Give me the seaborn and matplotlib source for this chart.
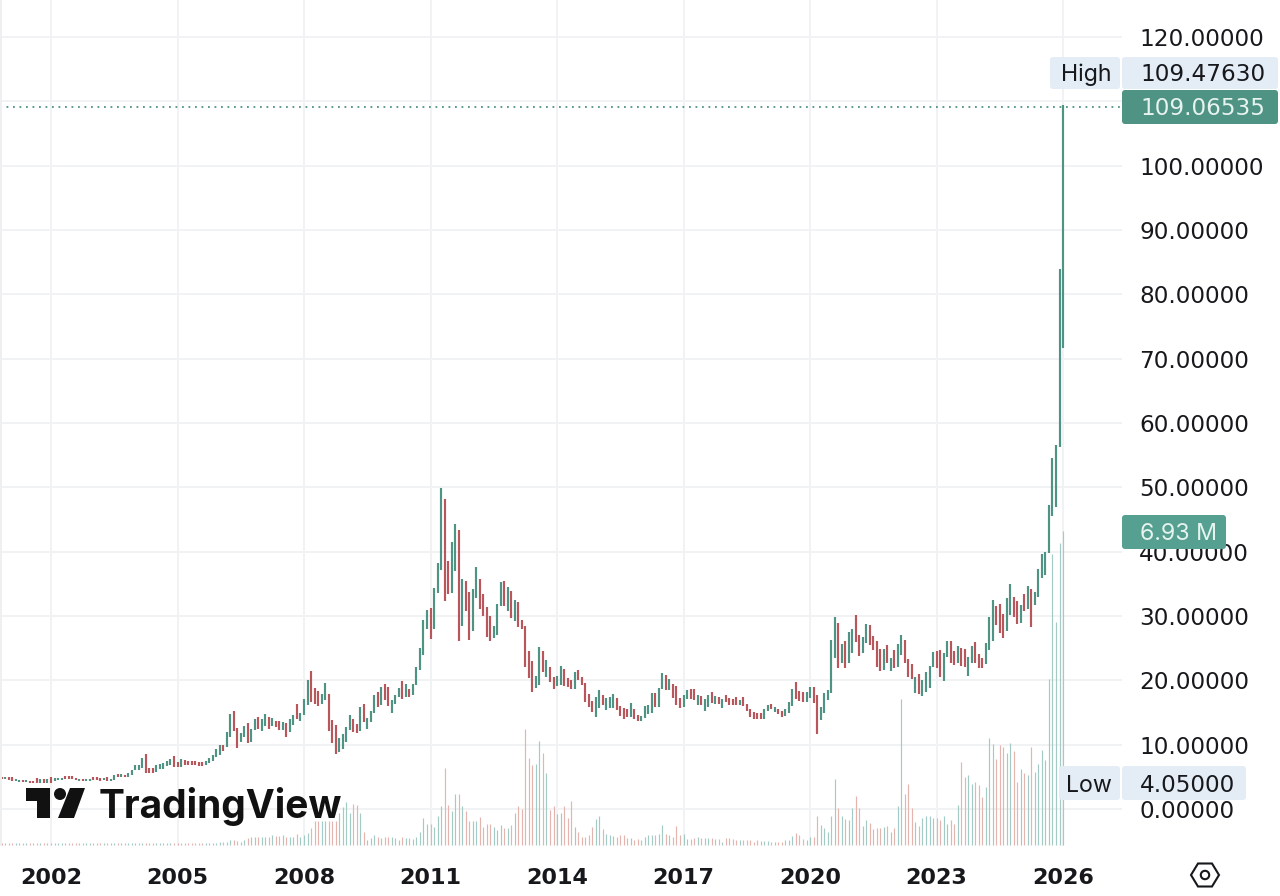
import matplotlib
matplotlib.use("Agg")
import matplotlib.patches as mpatches
import numpy as np
import pandas as pd
import seaborn as sns
from matplotlib import pyplot as plt

# monthly bars, first one is Nov 2000, last one is Jan 2026
highs = [
    4.93, 4.98,
    4.93, 5.03, 4.67, 4.57, 4.51, 4.46, 4.41, 4.41, 4.77, 4.62, 4.62, 4.62,
    4.93, 4.77, 4.88, 4.88, 5.14, 5.19, 5.14, 4.88, 4.72, 4.62, 4.72, 4.72,
    4.93, 4.93, 4.82, 4.88, 4.93, 4.67, 5.29, 5.39, 5.45, 5.29, 5.55, 6.12,
    6.84, 6.84, 7.88, 8.55, 6.33, 6.33, 6.84, 6.95, 7.10, 7.47, 7.73, 8.19,
    7.36, 7.78, 7.62, 7.52, 7.52, 7.41, 7.36, 7.26, 7.52, 7.93, 8.40, 9.28,
    9.90, 9.95, 11.92, 14.77, 15.24, 12.54, 11.87, 12.91, 13.32, 12.39, 13.94, 14.25,
    13.94, 14.72, 14.25, 14.20, 13.68, 13.68, 13.47, 13.32, 13.95, 14.62, 16.33, 14.98,
    17.05, 20.06, 21.46, 18.76, 18.40, 17.88, 19.64, 17.88, 13.84, 13.07, 11.00, 11.67,
    12.81, 14.62, 14.00, 13.22, 15.81, 16.33, 14.10, 15.24, 17.73, 18.25, 18.92, 19.44,
    18.92, 16.95, 17.73, 18.76, 19.90, 19.44, 18.61, 19.44, 22.13, 24.98, 29.38, 30.94,
    31.20, 34.30, 38.19, 49.84, 48.20, 38.55, 41.45, 44.25, 43.37, 35.76, 35.44, 33.68,
    34.15, 37.57, 35.76, 33.37, 31.46, 30.01, 28.45, 31.87, 35.24, 35.44, 34.46, 33.89,
    32.49, 32.23, 29.38, 28.45, 24.57, 23.01, 20.68, 25.14, 24.57, 23.17, 22.03, 20.58,
    20.68, 22.23, 21.77, 20.32, 20.06, 21.35, 21.61, 20.47, 19.65, 17.88, 16.79, 17.36,
    18.50, 17.72, 17.31, 17.36, 17.88, 17.21, 16.02, 15.65, 15.50, 16.43, 15.55, 14.62,
    14.51, 16.02, 16.17, 17.98, 18.09, 18.76, 21.09, 20.83, 20.16, 19.43, 19.12, 17.21,
    17.72, 18.50, 18.60, 18.60, 17.72, 17.57, 17.10, 17.72, 18.14, 17.57, 17.36, 17.05,
    17.72, 17.31, 17.05, 17.47, 16.95, 17.36, 16.27, 15.60, 15.03, 14.88, 14.88, 15.55,
    16.12, 16.33, 15.80, 15.50, 15.19, 15.50, 16.69, 18.60, 19.75, 18.40, 18.24, 18.24,
    18.92, 18.90, 17.70, 15.80, 18.00, 18.50, 26.30, 29.90, 28.86, 25.65, 26.12, 27.47,
    27.98, 30.16, 27.05, 26.79, 28.76, 28.60, 26.90, 26.12, 24.88, 24.88, 25.50, 23.53,
    24.72, 25.65, 27.05, 26.27, 23.32, 22.54, 20.58, 21.00, 20.06, 21.30, 22.23, 24.41,
    24.62, 24.72, 24.20, 26.07, 26.12, 24.62, 25.34, 25.03, 24.88, 23.68, 25.34, 25.91,
    24.10, 23.53, 25.76, 29.80, 32.49, 31.56, 31.87, 30.26, 32.75, 34.98, 33.00, 32.33,
    31.71, 33.37, 34.67, 34.20, 33.68, 37.30, 39.60, 39.90, 47.30, 54.60, 56.60, 84.00,
    109.4763,
]
lows = [
    4.62, 4.67,
    4.51, 4.36, 4.36, 4.25, 4.20, 4.15, 4.10, 4.05, 4.10, 4.05, 4.05, 4.10,
    4.10, 4.31, 4.51, 4.57, 4.62, 4.62, 4.62, 4.46, 4.36, 4.31, 4.36, 4.41,
    4.51, 4.51, 4.41, 4.46, 4.41, 4.41, 4.46, 4.93, 4.98, 4.93, 4.93, 5.29,
    6.07, 6.07, 6.33, 5.55, 5.55, 5.55, 5.70, 6.17, 6.22, 6.69, 6.84, 6.59,
    6.48, 6.59, 6.84, 6.84, 6.84, 6.79, 6.74, 6.74, 6.79, 7.21, 7.52, 8.04,
    8.40, 9.07, 9.69, 11.25, 12.18, 9.54, 10.37, 11.25, 10.32, 10.47, 12.28, 12.39,
    12.18, 12.91, 12.39, 12.91, 12.70, 12.28, 12.28, 11.25, 12.03, 13.06, 13.95, 13.74,
    14.62, 16.17, 16.69, 16.28, 16.07, 16.33, 16.95, 12.18, 10.32, 8.56, 8.92, 9.28,
    10.48, 12.29, 12.03, 11.87, 12.13, 13.58, 12.44, 13.48, 14.88, 15.92, 16.17, 16.95,
    16.02, 14.88, 16.33, 17.37, 17.11, 17.37, 17.47, 17.73, 19.28, 21.61, 23.94, 27.98,
    26.43, 27.98, 33.63, 37.15, 32.39, 33.42, 33.63, 37.05, 26.17, 28.50, 30.83, 26.28,
    27.73, 32.75, 31.09, 30.06, 26.79, 26.12, 26.53, 27.05, 31.61, 31.56, 30.83, 29.64,
    29.28, 28.35, 27.98, 22.13, 20.42, 18.25, 18.87, 19.28, 21.25, 20.58, 19.70, 18.66,
    19.13, 19.28, 19.13, 19.02, 18.66, 18.66, 20.06, 19.28, 16.69, 15.92, 15.13, 14.36,
    15.65, 16.17, 15.39, 15.76, 15.65, 15.39, 14.46, 14.00, 14.36, 14.36, 14.00, 13.74,
    13.68, 14.10, 14.77, 14.88, 15.91, 15.91, 18.66, 18.50, 18.50, 17.21, 16.17, 15.65,
    15.80, 17.05, 17.05, 16.95, 16.17, 16.17, 15.29, 15.91, 16.43, 16.33, 16.33, 15.76,
    16.69, 16.17, 16.17, 16.17, 16.17, 16.07, 15.29, 14.36, 14.05, 14.05, 14.05, 14.00,
    15.29, 15.50, 15.13, 14.72, 14.36, 14.46, 14.98, 16.02, 17.05, 16.79, 16.59, 16.69,
    17.21, 16.50, 11.70, 13.80, 14.90, 16.90, 18.00, 23.40, 21.87, 22.65, 21.97, 22.65,
    24.20, 26.00, 23.84, 24.20, 25.76, 25.50, 24.70, 22.13, 21.46, 21.61, 22.75, 21.51,
    21.97, 22.13, 23.94, 22.75, 20.58, 20.21, 18.09, 17.83, 17.62, 18.25, 18.87, 22.13,
    21.87, 20.58, 19.95, 23.68, 22.65, 22.39, 22.65, 22.29, 22.13, 20.73, 22.65, 22.65,
    21.87, 21.97, 22.54, 24.72, 26.17, 28.60, 27.41, 26.64, 27.72, 30.16, 29.80, 28.76,
    28.97, 30.83, 31.09, 28.35, 31.71, 33.00, 35.96, 36.40, 39.80, 45.50, 46.90, 56.30,
    71.60,
]
# G = month closed up, R = month closed down
directions = (
    "RG" "RRGGRGRRRGRG"
    "RGGGRRRRGRGG" "RRRGRGGRGRGG" "GGGRRRGGGGGR" "RGRRRRRRGGGG"
    "GRGGRRGGRGGR" "GGRGRRGRGGRG" "GGRRRGGRRRGG" "GGRRGRGGGRGR"
    "RGGGRGRGGGGG" "RGGGRRGGRGRR" "GGRRRRGGGRGR" "GRRRRRGGRGRR"
    "GGRRRGRRRRRG" "GRGGGRRRRGRR" "GGGGRGGRGRRR" "GGRRGRGGRGRG"
    "RRRRGRRRRRRG" "GRGRRGGGRRRG" "GRRGGGGGRGRG" "GRRGGRRRRGRG"
    "RGGRRRGRGGGG" "RRGGRRGRRGGR" "RRGGGRRRGGRR" "GRGRGGGGGGGG"
    "G"
)
# volume, millions
volumes = [
    0.04, 0.04,
    0.04, 0.04, 0.04, 0.04, 0.04, 0.04, 0.04, 0.04, 0.04, 0.04, 0.04, 0.04,
    0.04, 0.04, 0.04, 0.04, 0.04, 0.04, 0.04, 0.04, 0.04, 0.04, 0.04, 0.04,
    0.04, 0.04, 0.04, 0.04, 0.04, 0.04, 0.04, 0.04, 0.04, 0.04, 0.04, 0.04,
    0.04, 0.04, 0.04, 0.05, 0.04, 0.04, 0.04, 0.04, 0.04, 0.04, 0.04, 0.04,
    0.04, 0.04, 0.04, 0.04, 0.04, 0.04, 0.04, 0.04, 0.04, 0.05, 0.05, 0.05,
    0.06, 0.06, 0.07, 0.11, 0.11, 0.09, 0.06, 0.11, 0.15, 0.17, 0.17, 0.18,
    0.18, 0.17, 0.18, 0.22, 0.20, 0.20, 0.22, 0.18, 0.18, 0.18, 0.24, 0.18,
    0.22, 0.27, 0.37, 0.53, 0.52, 0.52, 0.52, 0.52, 0.52, 0.52, 0.70, 0.83,
    0.96, 0.70, 0.91, 0.88, 0.71, 0.29, 0.11, 0.15, 0.21, 0.18, 0.16, 0.18,
    0.18, 0.18, 0.15, 0.11, 0.18, 0.16, 0.16, 0.13, 0.17, 0.28, 0.59, 0.46,
    0.46, 0.39, 0.64, 0.87, 1.71, 0.88, 0.76, 1.13, 1.13, 0.85, 0.74, 0.52,
    0.52, 0.52, 0.61, 0.39, 0.46, 0.46, 0.40, 0.33, 0.44, 0.38, 0.37, 0.44,
    0.71, 0.86, 0.79, 2.56, 1.91, 1.77, 1.79, 2.30, 2.02, 1.60, 0.77, 0.85,
    0.68, 0.71, 0.86, 0.59, 0.97, 0.39, 0.29, 0.17, 0.17, 0.21, 0.39, 0.57,
    0.64, 0.35, 0.24, 0.22, 0.20, 0.18, 0.21, 0.22, 0.15, 0.15, 0.11, 0.13,
    0.11, 0.18, 0.21, 0.22, 0.21, 0.24, 0.44, 0.24, 0.22, 0.18, 0.43, 0.22,
    0.24, 0.13, 0.13, 0.15, 0.18, 0.15, 0.15, 0.15, 0.15, 0.13, 0.13, 0.07,
    0.15, 0.15, 0.13, 0.11, 0.11, 0.11, 0.10, 0.11, 0.07, 0.11, 0.09, 0.09,
    0.09, 0.07, 0.07, 0.07, 0.07, 0.11, 0.12, 0.20, 0.26, 0.21, 0.13, 0.11,
    0.18, 0.18, 0.64, 0.44, 0.37, 0.29, 0.64, 1.45, 0.81, 0.63, 0.57, 0.55,
    0.82, 1.08, 0.81, 0.43, 0.55, 0.49, 0.35, 0.38, 0.38, 0.39, 0.42, 0.29,
    0.37, 0.87, 3.22, 1.12, 1.35, 0.81, 0.50, 0.42, 0.59, 0.64, 0.64, 0.60,
    0.60, 0.55, 0.64, 0.46, 0.55, 0.46, 0.88, 1.83, 1.51, 1.55, 1.34, 1.38,
    1.32, 1.05, 1.27, 2.37, 2.22, 1.90, 2.21, 2.17, 2.02, 2.26, 2.08, 1.38,
    1.68, 1.60, 1.55, 2.16, 1.62, 1.79, 2.10, 1.88, 3.66, 6.42, 4.92, 6.67,
    6.93,
]
last_close = 109.06535
year_labels = ["2002", "2005", "2008", "2011", "2014", "2017", "2020", "2023", "2026"]
year_months = [0, 36, 72, 108, 144, 180, 216, 252, 288]
price_ticks = [0, 10, 20, 30, 40, 50, 60, 70, 80, 90, 100, 110, 120]

GREEN = "#4f9384"
RED = "#b9565c"
GREEN_VOL = "#a3cac5"
RED_VOL = "#e3b5ae"
GRID = "#f1f2f4"
INK = "#17181c"
TAG = "#e4edf6"
NUM_FONT = "DejaVu Sans"

sns.set_theme(style="white", rc={"axes.edgecolor": "none", "figure.facecolor": "white"})
plt.rcParams["font.family"] = ["Inter", "DejaVu Sans"]

months = np.arange(len(highs)) - 14
df = pd.DataFrame({"month": months, "high": highs, "low": lows,
                   "volume": volumes, "dir": list(directions)})
df["base"] = 0.0
bars = df.melt(id_vars=["month", "dir"], value_vars=["high", "low"], value_name="price")
vols = df.melt(id_vars=["month", "dir"], value_vars=["volume", "base"], value_name="vol")

fig = plt.figure(figsize=(12.8, 8.96), dpi=100)
ax = fig.add_axes([0, 50 / 896, 1122 / 1280, 846 / 896])
ax.patch.set_alpha(0)

sns.lineplot(data=bars, x="month", y="price", hue="dir", units="month", estimator=None,
             palette={"G": GREEN, "R": RED}, lw=1.55, solid_capstyle="butt",
             legend=False, ax=ax)
ax.axhline(last_close, color=GREEN, lw=1.3, ls=(0, (1, 2.6)), zorder=1)

ax.set_xlim(-51 / 3.514, (1122 - 51) / 3.514)
ax.set_ylim((809 - 846) / 6.433, 809 / 6.433)
ax.set_xlabel("")
ax.set_ylabel("")
ax.set_axisbelow(True)
ax.grid(True, color=GRID, lw=1.4)

ax_vol = ax.twinx()
sns.lineplot(data=vols, x="month", y="vol", hue="dir", units="month", estimator=None,
             palette={"G": GREEN_VOL, "R": RED_VOL}, lw=0.85, solid_capstyle="butt",
             legend=False, ax=ax_vol)
ax_vol.set_ylim(-1 * 0.02207, 845 * 0.02207)
ax_vol.set_ylabel("")
ax_vol.set_yticks([])
ax_vol.grid(False)

# twinx moves the price ticks back to the left, so set them up after it
ax.set_xticks(year_months, year_labels, fontsize=16, fontweight="bold", color=INK,
              family=NUM_FONT)
ax.set_yticks(price_ticks)
ax.set_yticklabels(["" if p == 110 else f"{p:.5f}" for p in price_ticks], fontsize=16.7,
                   color=INK, family=NUM_FONT, va="center_baseline")
ax.yaxis.tick_right()
ax.tick_params(axis="x", length=0, pad=15.5)
ax.tick_params(axis="y", length=0, pad=12.5)

# overlay in pixels for the price tags, logo and settings icon
ov = fig.add_axes([0, 0, 1, 1], zorder=10)
ov.set_xlim(0, 1280)
ov.set_ylim(896, 0)
ov.axis("off")


def tag(x0, y0, x1, y1, color):
    ov.add_patch(mpatches.FancyBboxPatch((x0, y0), x1 - x0, y1 - y0, facecolor=color,
                                         edgecolor="none",
                                         boxstyle="round,pad=0,rounding_size=3"))


ov.add_patch(mpatches.Rectangle((0, 0), 2, 846, facecolor="#eeeff1", edgecolor="none"))

tag(1050, 57, 1120, 89, TAG)
tag(1122, 57, 1278, 89, TAG)
tag(1122, 90, 1278, 124, GREEN)
tag(1122, 515, 1226, 549, "#55a090")
tag(1059, 766, 1120, 800, TAG)
tag(1122, 766, 1246, 800, TAG)

tag_font = {"fontsize": 16.7, "va": "center_baseline"}
ov.text(1086, 72, "High", color=INK, ha="center", **tag_font)
ov.text(1140, 72, "109.47630", color=INK, family=NUM_FONT, **tag_font)
ov.text(1140, 106, "109.06535", color="#e6f3ef", family=NUM_FONT, **tag_font)
ov.text(1140, 532, "6.93 M", color="#e6f3ef", **tag_font)
ov.text(1089, 783, "Low", color=INK, ha="center", **tag_font)
ov.text(1140, 783, "4.05000", color=INK, family=NUM_FONT, **tag_font)

# TradingView logo
ov.add_patch(mpatches.Polygon([(26, 788), (50, 788), (50, 818), (37, 818), (37, 801), (26, 801)],
                              facecolor="#111111", edgecolor="none"))
ov.add_patch(mpatches.Circle((60, 794), 6, facecolor="#111111", edgecolor="none"))
ov.add_patch(mpatches.Polygon([(70, 788), (85, 788), (74, 818), (58, 818)],
                              facecolor="#111111", edgecolor="none"))
ov.text(99, 818, "TradingView", fontsize=28, fontweight="bold", color="#111111",
        va="baseline", ha="left")

# settings icon
ov.add_patch(mpatches.Polygon([(1191, 875), (1198, 863.5), (1212, 863.5), (1219, 875),
                               (1212, 886.5), (1198, 886.5)],
                              fill=False, edgecolor=INK, lw=1.5))
ov.add_patch(mpatches.Circle((1205, 875), 4.2, fill=False, edgecolor=INK, lw=1.5))

fig.savefig("out.png", dpi=100)
